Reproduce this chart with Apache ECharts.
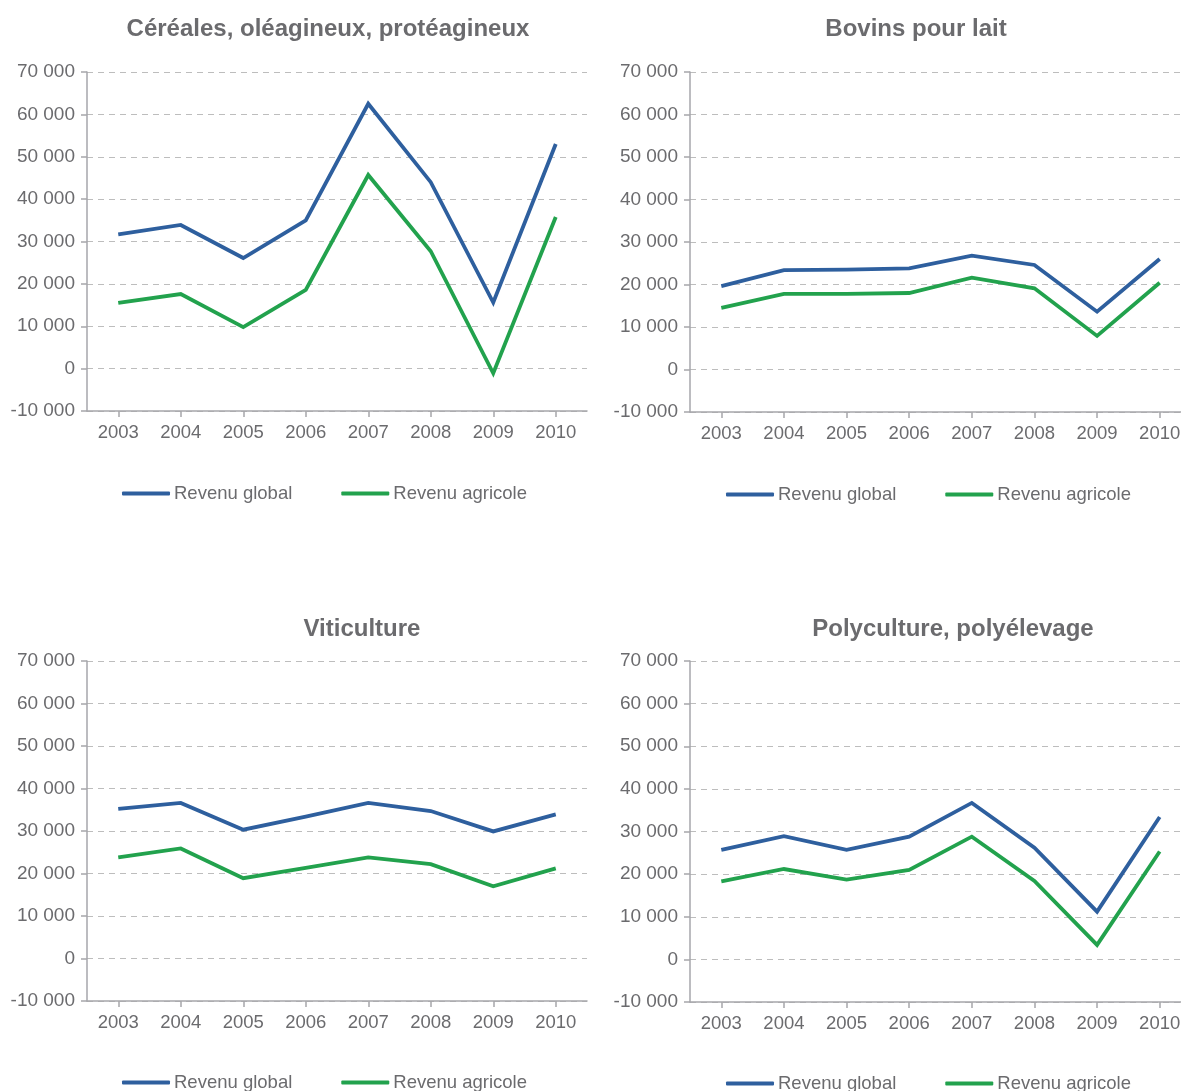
<!DOCTYPE html>
<html>
<head>
<meta charset="utf-8">
<script src="https://cdn.jsdelivr.net/npm/echarts@6/dist/echarts.min.js"></script>
<style>
html,body{margin:0;padding:0;background:#fff;overflow:hidden;}
#chart{width:1200px;height:1091px;}
</style>
</head>
<body>
<div id="chart"></div>
<script>
var years = ['2003','2004','2005','2006','2007','2008','2009','2010'];
var seriesNames = ['Revenu global','Revenu agricole'];
var panelTitles = ['Céréales, oléagineux, protéagineux','Bovins pour lait','Viticulture','Polyculture, polyélevage'];
var yTicks = {min:-10000, max:70000, interval:10000};

var cerealesGlobal   = [31700, 33900, 26100, 35000, 62500, 44000, 15600, 53000];
var cerealesAgricole = [15500, 17600, 9800, 18600, 45700, 27700, -1100, 35800];
var bovinsGlobal     = [19600, 23400, 23500, 23800, 26800, 24600, 13600, 26000];
var bovinsAgricole   = [14500, 17800, 17800, 18000, 21600, 19100, 7900, 20400];
var vitiGlobal       = [35200, 36600, 30300, 33400, 36600, 34700, 29900, 33900];
var vitiAgricole     = [23800, 25900, 18900, 21300, 23800, 22200, 17000, 21200];
var polyGlobal       = [25700, 28900, 25700, 28800, 36700, 26200, 11200, 33400];
var polyAgricole     = [18300, 21200, 18700, 21000, 28800, 18400, 3400, 25300];

var panelData = [
  [cerealesGlobal, cerealesAgricole],
  [bovinsGlobal, bovinsAgricole],
  [vitiGlobal, vitiAgricole],
  [polyGlobal, polyAgricole]
];

var colors = ['#2e5f9e', '#22a24d'];
var textColor = '#6b6b6e';
var fontFamily = 'Liberation Sans, Arial, sans-serif';

var layouts = [
  {grid:{left:87, top:72, width:500, height:339}, title:{left:323, top:12}, legend:{left:117, top:479}},
  {grid:{left:690, top:72, width:501, height:340}, title:{left:911, top:12}, legend:{left:721, top:480}},
  {grid:{left:87, top:661, width:500, height:340}, title:{left:357, top:612}, legend:{left:117, top:1068}},
  {grid:{left:690, top:661, width:501, height:341}, title:{left:948, top:612}, legend:{left:721, top:1069}}
];

function fmt(v){ return String(v).replace(/\B(?=(\d{3})+(?!\d))/g, ' '); }

var option = {
  backgroundColor:'#fff',
  animation:false,
  title:[], grid:[], xAxis:[], yAxis:[], legend:[], series:[]
};

layouts.forEach(function(L, i){
  option.title.push({
    text: panelTitles[i], left: L.title.left, top: L.title.top, textAlign:'center',
    textStyle:{fontFamily:fontFamily, fontSize:24, fontWeight:'bold', color:textColor}
  });
  option.grid.push(Object.assign({containLabel:false}, L.grid));
  option.xAxis.push({
    type:'category', gridIndex:i, data:years, boundaryGap:true,
    axisLine:{show:true, onZero:false, lineStyle:{color:'#a6a6ab', width:1.5}},
    axisTick:{show:true, alignWithLabel:true, length:6, lineStyle:{color:'#a6a6ab', width:1.5}},
    axisLabel:{color:textColor, fontSize:18.5, fontFamily:fontFamily, margin:12},
    splitLine:{show:false}
  });
  option.yAxis.push({
    type:'value', gridIndex:i, min:yTicks.min, max:yTicks.max, interval:yTicks.interval,
    axisLine:{show:true, lineStyle:{color:'#a6a6ab', width:1.5}},
    axisTick:{show:true, length:6, lineStyle:{color:'#a6a6ab', width:1.5}},
    axisLabel:{color:textColor, fontSize:19, fontFamily:fontFamily, margin:12, formatter:fmt},
    splitLine:{show:true, lineStyle:{color:'#bdbdbd', type:[6,5], width:1.2}}
  });
  option.legend.push({
    data:seriesNames, left:L.legend.left, top:L.legend.top, orient:'horizontal',
    icon:'roundRect', itemWidth:48, itemHeight:4, itemGap:49,
    textStyle:{color:textColor, fontSize:18.5, fontFamily:fontFamily, padding:[0,0,0,-1]},
    selectedMode:false
  });
  seriesNames.forEach(function(name, k){
    option.series.push({
      name:name, type:'line', xAxisIndex:i, yAxisIndex:i, data:panelData[i][k],
      showSymbol:false, symbol:'none', color:colors[k],
      lineStyle:{color:colors[k], width:3.8, join:'miter'}
    });
  });
});

var chart = echarts.init(document.getElementById('chart'), null, {renderer:'canvas'});
chart.setOption(option);
</script>
</body>
</html>
